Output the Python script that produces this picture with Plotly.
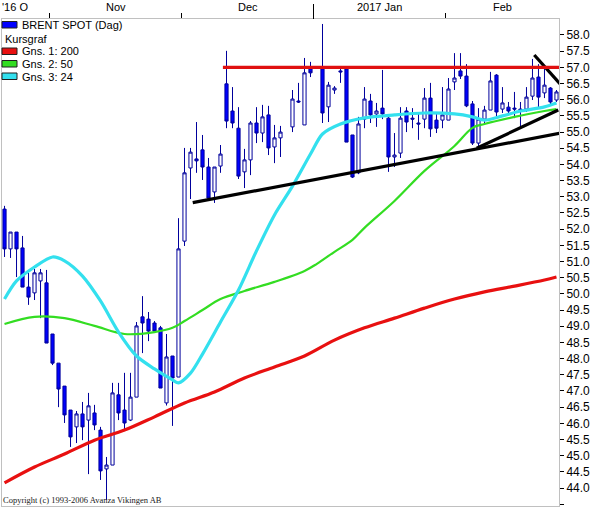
import pandas as pd
import plotly.graph_objects as go

# handelsdagar 20 okt 2016 - 27 feb 2017 (26 dec och 2 jan saknar kurs)
dates = pd.bdate_range("2016-10-20", "2017-02-27")

opens = [52.62, 51.39, 51.91, 51.42, 50.21, 50.03, 50.40, 50.34, 48.76, 47.86,
         47.15, 46.41, 45.89, 46.29, 46.10, 46.32, 45.79, 44.59, 44.71, 46.88,
         46.41, 46.10, 46.81, 49.29, 49.22, 49.10, 48.95, 46.63, 48.08, 47.43,
         51.63, 53.89, 54.17, 54.45, 53.92, 53.15, 53.95, 56.49, 55.65, 55.12,
         53.77, 54.14, 55.28, 54.97, 55.53, 54.54, 54.82, None, 55.16, 55.96,
         55.22, 56.95, None, 56.95, 55.78, 56.30, 56.89, 56.95, 54.91, 53.74,
         55.40, 55.96, 55.56, 55.74, 55.43, 54.23, 54.35, 55.65, 55.43, 55.28,
         55.40, 56.05, 55.37, 55.37, 55.37, 56.55, 56.89, 56.73, 55.87, 54.66,
         55.40, 55.68, 56.76, 55.71, 55.77, 55.74, 55.71, 55.71, 56.11, 56.70,
         56.21, 56.36, 55.99]
highs = [52.72, 51.91, 51.91, 51.79, 50.65, 50.77, 50.77, 50.74, 48.76, 47.86,
         47.15, 46.41, 46.38, 46.66, 46.94, 46.57, 45.89, 44.96, 47.25, 47.25,
         47.56, 47.56, 49.13, 49.93, 49.44, 49.16, 49.01, 48.76, 48.08, 52.34,
         54.51, 54.51, 55.31, 54.91, 54.20, 53.92, 54.60, 57.51, 56.39, 55.77,
         54.48, 55.34, 55.77, 55.84, 55.81, 55.22, 55.19, None, 56.30, 56.52,
         57.29, 57.17, None, 58.34, 56.55, 56.42, 57.01, 57.01, 54.91, 55.47,
         56.39, 56.18, 55.90, 56.92, 55.47, 54.97, 55.77, 55.77, 55.74, 55.59,
         56.36, 56.52, 55.59, 56.39, 56.67, 57.44, 57.44, 57.10, 55.96, 55.74,
         55.81, 56.86, 56.79, 56.39, 55.93, 56.24, 55.93, 56.39, 57.26, 57.10,
         56.98, 56.39, 56.30]
lows = [51.14, 51.11, 50.52, 50.21, 49.66, 49.81, 49.25, 48.48, 47.80, 46.50,
        46.01, 45.27, 45.39, 45.48, 44.43, 45.79, 44.25, 43.63, 44.71, 46.10,
        45.76, 46.07, 46.81, 48.17, 48.54, 48.80, 47.09, 46.55, 45.92, 47.43,
        51.48, 52.93, 53.74, 53.52, 52.96, 52.81, 53.74, 55.12, 55.12, 53.55,
        53.27, 53.67, 54.66, 54.69, 54.29, 54.04, 54.23, None, 55.00, 55.90,
        55.22, 56.70, None, 55.28, 55.31, 56.18, 56.52, 54.69, 53.58, 53.70,
        55.12, 55.28, 55.16, 55.40, 53.77, 53.92, 54.20, 55.00, 55.12, 54.76,
        55.12, 54.85, 54.97, 55.12, 55.37, 56.30, 56.64, 55.77, 54.60, 54.51,
        55.28, 55.68, 55.47, 55.59, 55.53, 55.43, 55.16, 55.62, 55.99, 55.77,
        56.05, 55.84, 55.93]
closes = [51.39, 51.91, 51.39, 50.21, 49.90, 50.65, 50.65, 48.48, 47.86, 47.06,
          46.26, 45.58, 46.29, 45.89, 46.54, 45.95, 44.53, 44.71, 46.94, 46.32,
          46.01, 46.81, 49.01, 49.10, 48.85, 48.85, 47.09, 48.05, 47.40, 51.39,
          53.74, 54.38, 54.11, 53.92, 52.96, 53.92, 54.32, 55.34, 55.28, 53.64,
          54.14, 55.28, 54.97, 55.47, 54.51, 54.82, 55.00, None, 56.02, 55.93,
          56.83, 56.83, None, 55.59, 56.45, 56.36, 56.86, 54.69, 53.61, 55.25,
          56.02, 55.53, 55.65, 55.56, 54.23, 54.29, 55.43, 55.31, 55.40, 55.25,
          56.05, 55.10, 55.12, 55.53, 56.33, 56.67, 56.73, 55.81, 54.66, 55.40,
          55.68, 56.58, 55.62, 55.90, 55.65, 55.71, 55.65, 56.08, 56.67, 56.08,
          56.45, 55.93, 56.24]

# glidande medelvärden, avlästa vid vissa dagar (index i dates)
ma200_idx = [0, 5, 10, 15, 20, 25, 30, 35, 40, 45, 50, 55, 60, 65, 70, 75, 80, 85, 90, 92]
ma200 = [44.16, 44.65, 45.05, 45.48, 45.79, 46.20, 46.63, 46.97, 47.40, 47.74,
         48.08, 48.57, 48.95, 49.25, 49.56, 49.84, 50.06, 50.24, 50.43, 50.52]
ma50_idx = [0, 5, 10, 15, 20, 25, 28, 30, 33, 36, 40, 45, 50, 52, 55, 58, 60, 65,
            70, 75, 78, 80, 85, 90, 92]
ma50 = [49.07, 49.29, 49.25, 49.01, 48.76, 48.82, 48.95, 49.16, 49.50, 49.84,
        50.09, 50.37, 50.71, 50.92, 51.30, 51.67, 52.04, 52.87, 53.80, 54.57,
        55.13, 55.25, 55.47, 55.65, 55.71]
ma24_idx = [0, 2, 5, 8, 10, 13, 16, 19, 22, 25, 28, 29, 31, 33, 36, 39, 42, 45,
            48, 51, 53, 56, 60, 65, 70, 75, 78, 80, 83, 86, 90, 92]
ma24 = [49.84, 50.40, 50.83, 51.14, 51.02, 50.55, 49.78, 48.82, 48.08, 47.68,
        47.34, 47.25, 47.55, 48.14, 49.13, 50.12, 51.33, 52.44, 53.33, 54.32,
        54.94, 55.25, 55.44, 55.53, 55.59, 55.56, 55.47, 55.37, 55.50, 55.65,
        55.78, 55.90]

# inritade trendlinjer (start- och slutpunkt)
trend_low_x, trend_low_y = [31.37, 92.47], [52.82, 54.96]
trend_high_x, trend_high_y = [78.7, 92.3], [54.50, 55.68]
trend_down_x, trend_down_y = [88.3, 92.6], [57.38, 56.49]
resist_x, resist_y = [36.4, 92.5], [57.0, 57.0]

month_labels = ["'16 O", "Nov", "Dec", "2017 Jan", "Feb"]
legend_items = [("BRENT SPOT (Dag)", "#0000FF"), ("Kursgraf", None),
                ("Gns. 1: 200", "#E81010"), ("Gns. 2: 50", "#33DD22"),
                ("Gns. 3: 24", "#33E0EE")]
copyright_text = "Copyright (c) 1993-2006 Avanza Vikingen AB"

W, H = 595, 508
L, R, T, B = 2, 36, 19, 2
x_range = [-0.42, 92.42]
y_range = [43.445, 58.494]


def paper(px, py):
    """Pixel i bilden -> paper-koordinater."""
    return (px - L) / (W - L - R), (H - B - py) / (H - T - B)


xs = list(range(len(dates)))

fig = go.Figure()

fig.add_trace(go.Candlestick(
    x=xs, open=opens, high=highs, low=lows, close=closes,
    increasing=dict(line=dict(color="#00009C", width=1), fillcolor="white"),
    decreasing=dict(line=dict(color="#00009C", width=1), fillcolor="#0000FF"),
    whiskerwidth=0, showlegend=False, hoverinfo="skip"))

fig.add_trace(go.Scatter(x=ma200_idx, y=ma200, mode="lines", line_shape="spline",
                         line=dict(color="#E81010", width=3.2), hoverinfo="skip"))
fig.add_trace(go.Scatter(x=ma50_idx, y=ma50, mode="lines", line_shape="spline",
                         line=dict(color="#33DD22", width=2.2), hoverinfo="skip"))
fig.add_trace(go.Scatter(x=ma24_idx, y=ma24, mode="lines",
                         line=dict(color="#33E0EE", width=3.2, shape="spline", smoothing=0.8),
                         hoverinfo="skip"))

for tx, ty in [(trend_low_x, trend_low_y), (trend_high_x, trend_high_y),
               (trend_down_x, trend_down_y)]:
    fig.add_trace(go.Scatter(x=tx, y=ty, mode="lines",
                             line=dict(color="black", width=3.2), hoverinfo="skip"))
fig.add_trace(go.Scatter(x=resist_x, y=resist_y, mode="lines",
                         line=dict(color="#E01010", width=3.2), hoverinfo="skip"))

# månadsgränser och etiketter
bounds = [i - 0.5 for i in range(1, len(dates)) if dates[i].month != dates[i - 1].month]
year_bounds = [i - 0.5 for i in range(1, len(dates)) if dates[i].year != dates[i - 1].year]
edges = [x_range[0]] + bounds + [x_range[1]]

annotations = []
for j, lab in enumerate(month_labels):
    if j == 0:
        annotations.append(dict(x=0, xref="paper", y=paper(0, 7)[1], yref="paper",
                                text=lab, showarrow=False, xanchor="left", yanchor="middle",
                                xshift=-2))
    else:
        annotations.append(dict(x=(edges[j] + edges[j + 1]) / 2, xref="x",
                                y=paper(0, 7)[1], yref="paper", text=lab, showarrow=False,
                                xanchor="center", yanchor="middle"))

shapes = []
for yb in year_bounds:
    shapes.append(dict(type="line", xref="x", yref="paper", x0=yb, x1=yb,
                       y0=1, y1=paper(0, 4)[1], line=dict(color="black", width=1)))

# egen förklaring uppe till vänster
for k, (lab, col) in enumerate(legend_items):
    cy = [25, 39, 51.5, 64, 76.5][k]
    if col is not None:
        x0, y0 = paper(2, cy - 3.5)
        x1, y1 = paper(17, cy + 3)
        shapes.append(dict(type="rect", xref="paper", yref="paper", x0=x0, x1=x1,
                           y0=y1, y1=y0, fillcolor=col,
                           line=dict(color="#202020", width=1)))
        tx = paper(20, cy)
    else:
        tx = paper(3, cy)
    annotations.append(dict(x=tx[0], y=tx[1], xref="paper", yref="paper", text=lab,
                            showarrow=False, xanchor="left", yanchor="middle"))

cp = paper(1, 500)
annotations.append(dict(x=cp[0], y=cp[1], xref="paper", yref="paper", text=copyright_text,
                        showarrow=False, xanchor="left", yanchor="middle",
                        font=dict(family="Liberation Serif", size=8.5, color="#202020")))

fig.update_layout(
    width=W, height=H, margin=dict(l=L, r=R, t=T, b=B),
    paper_bgcolor="white", plot_bgcolor="white", showlegend=False,
    font=dict(family="Liberation Sans", size=11, color="black"),
    boxgap=0.25,
    annotations=annotations, shapes=shapes,
    xaxis=dict(side="top", range=x_range, tickvals=bounds, ticks="outside", ticklen=5,
               tickcolor="black", showticklabels=False, showgrid=False, zeroline=False,
               showline=True, linecolor="#C0C0C0", mirror=True,
               rangeslider=dict(visible=False)),
    yaxis=dict(side="right", range=y_range, tick0=44, dtick=0.5, tickformat=".1f",
               ticks="outside", ticklen=4, tickcolor="black", showgrid=False,
               zeroline=False, showline=True, linecolor="#C0C0C0", mirror=True,
               tickfont=dict(size=12)),
)

# sidans standardmarginal flyttar annars hela diagrammet 8 px
fig.write_html("out.html", config=dict(displayModeBar=False),
               post_script="document.body.style.margin='0';document.body.style.overflow='hidden';")
